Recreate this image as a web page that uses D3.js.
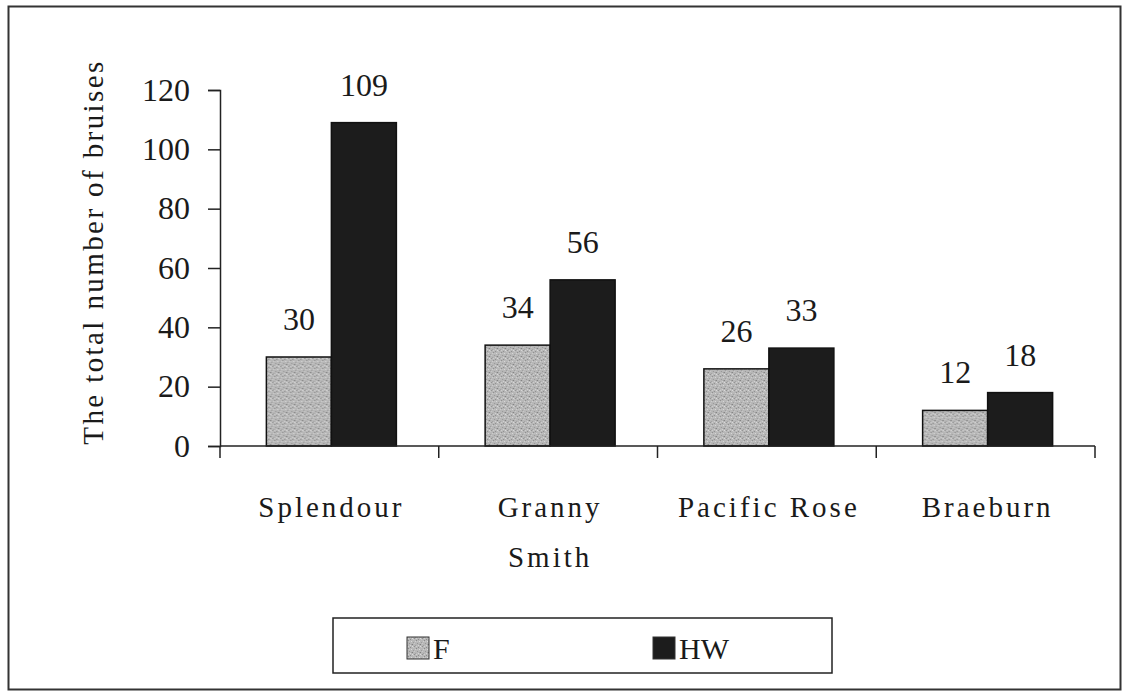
<!DOCTYPE html>
<html>
<head>
<meta charset="utf-8">
<script src="https://cdn.jsdelivr.net/npm/d3@7/dist/d3.min.js"></script>
<style>
  html, body { margin: 0; padding: 0; background: #fff; }
  svg { display: block; }
  text { font-family: "Liberation Serif", "Times New Roman", serif; fill: #1a1a1a; }
</style>
</head>
<body>
<svg id="chart" width="1127" height="692"></svg>
<script>
// Bruise counts per apple cultivar, two treatments
const categories = ["Splendour", "Granny Smith", "Pacific Rose", "Braeburn"];
const categoryLines = [["Splendour"], ["Granny", "Smith"], ["Pacific Rose"], ["Braeburn"]];
const seriesNames = ["F", "HW"];
const valuesF = [30, 34, 26, 12];
const valuesHW = [109, 56, 33, 18];
const yTicks = [0, 20, 40, 60, 80, 100, 120];

const svg = d3.select("#chart");

// textures: stippled grey for F, near-black for HW
const defs = svg.append("defs");
const pat = defs.append("pattern")
  .attr("id", "stipple").attr("patternUnits", "userSpaceOnUse")
  .attr("width", 8).attr("height", 8);
pat.append("rect").attr("width", 8).attr("height", 8).attr("fill", "#b7b7b7");
const dots = [
  [0,0,"#8a8a8a"],[3,1,"#dadada"],[1,3,"#969696"],[4,4,"#7e7e7e"],[2,5,"#d4d4d4"],
  [5,2,"#9c9c9c"],[0,6,"#cfcfcf"],[6,6,"#8f8f8f"],[7,1,"#d0d0d0"],[6,3,"#c9c9c9"],
  [2,7,"#8c8c8c"],[4,6,"#dedede"],[7,5,"#a0a0a0"],[1,1,"#c4c4c4"],[5,7,"#c8c8c8"],[3,4,"#a2a2a2"]
];
dots.forEach(([x, y, c]) => pat.append("rect").attr("x", x).attr("y", y).attr("width", 1).attr("height", 1).attr("fill", c));
const fills = { F: "url(#stipple)", HW: "#1c1c1c" };

// outer frame
svg.append("rect").attr("x", 8.5).attr("y", 6.5).attr("width", 1112).attr("height", 683)
  .attr("fill", "none").attr("stroke", "#333").attr("stroke-width", 2);

const plot = { left: 220, right: 1095, top: 90, bottom: 446 };

const x0 = d3.scaleBand().domain(categories).range([plot.left, plot.right]).paddingInner(0).paddingOuter(0);
const x1 = d3.scaleBand().domain(seriesNames).range([0, 130]);
const y = d3.scaleLinear().domain([0, 120]).range([plot.bottom, plot.top]);

const g = svg.append("g");

// bars
const rows = categories.map((c, i) => ({ cat: c, F: valuesF[i], HW: valuesHW[i] }));
const groups = g.selectAll("g.cat").data(rows).join("g").attr("class", "cat")
  .attr("transform", d => `translate(${x0(d.cat) + (x0.bandwidth() - 130) / 2 + 2},0)`);

groups.selectAll("rect").data(d => seriesNames.map(s => ({ s, v: d[s] }))).join("rect")
  .attr("x", d => x1(d.s)).attr("width", x1.bandwidth())
  .attr("y", d => y(d.v)).attr("height", d => y(0) - y(d.v))
  .attr("fill", d => fills[d.s]).attr("stroke", "#111").attr("stroke-width", 1.5);

groups.selectAll("text.val").data(d => seriesNames.map(s => ({ s, v: d[s] }))).join("text")
  .attr("class", "val")
  .attr("x", d => x1(d.s) + x1.bandwidth() / 2)
  .attr("y", d => y(d.v) - 27)
  .attr("text-anchor", "middle").style("font-size", "32px")
  .text(d => d.v);

// y axis
const yAxis = d3.axisLeft(y).tickValues(yTicks).tickSize(12).tickPadding(18);
const ya = svg.append("g").attr("transform", `translate(${plot.left},0)`).call(yAxis);
ya.select(".domain").attr("stroke", "#222").attr("stroke-width", 1.5);
ya.selectAll(".tick line").attr("stroke", "#222").attr("stroke-width", 1.5);
ya.selectAll(".tick text").style("font-size", "32px").attr("fill", "#1a1a1a");

// x axis: tick marks between categories
const xEdges = categories.map(c => x0(c)).concat([plot.right]);
const xAxisG = svg.append("g");
xAxisG.append("line").attr("x1", plot.left).attr("x2", plot.right)
  .attr("y1", plot.bottom).attr("y2", plot.bottom).attr("stroke", "#222").attr("stroke-width", 1.5);
xAxisG.selectAll("line.tk").data(xEdges).join("line").attr("class", "tk")
  .attr("x1", d => d).attr("x2", d => d).attr("y1", plot.bottom).attr("y2", plot.bottom + 12)
  .attr("stroke", "#222").attr("stroke-width", 1.5);

// category labels
const catLbl = svg.append("g").selectAll("text").data(categories).join("text")
  .attr("x", c => x0(c) + x0.bandwidth() / 2 + 2)
  .attr("y", 517)
  .attr("text-anchor", "middle").style("font-size", "29px").style("letter-spacing", "3px");
catLbl.selectAll("tspan").data((c, i) => categoryLines[i]).join("tspan")
  .attr("x", function() { return d3.select(this.parentNode).attr("x"); })
  .attr("dy", (d, i) => i === 0 ? 0 : 50)
  .text(d => d);

// y axis title
svg.append("text").attr("transform", "translate(103,252) rotate(-90)")
  .attr("text-anchor", "middle").style("font-size", "29px").style("letter-spacing", "2.4px")
  .text("The total number of bruises");

// legend
const leg = svg.append("g");
leg.append("rect").attr("x", 333).attr("y", 618).attr("width", 499).attr("height", 55)
  .attr("fill", "#fff").attr("stroke", "#222").attr("stroke-width", 1.5);
const legX = [407, 653];
seriesNames.forEach((s, i) => {
  leg.append("rect").attr("x", legX[i]).attr("y", 637).attr("width", 22).attr("height", 22)
    .attr("fill", fills[s]).attr("stroke", "#333").attr("stroke-width", 1);
  leg.append("text").attr("x", legX[i] + 26).attr("y", 659).style("font-size", "30px").text(s);
});
</script>
</body>
</html>
